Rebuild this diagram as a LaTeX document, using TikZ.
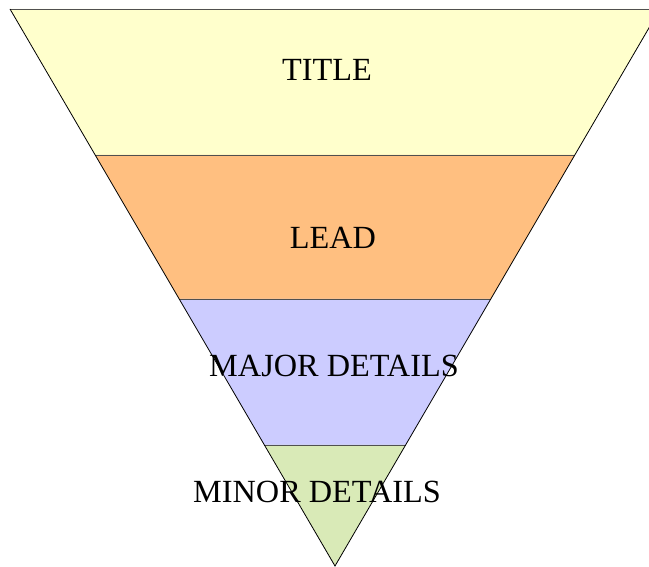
\documentclass[tikz,border=0pt]{standalone}
\usepackage{fontspec}
\setmainfont{Liberation Serif}
\definecolor{bandA}{RGB}{255,255,204}
\definecolor{bandB}{RGB}{255,191,128}
\definecolor{bandC}{RGB}{204,204,255}
\definecolor{bandD}{RGB}{217,234,183}
\definecolor{rule}{RGB}{80,80,80}
\begin{document}
\begin{tikzpicture}[x=1pt,y=1pt,
  label/.style={font=\fontsize{32.3}{38}\selectfont, inner sep=0pt, anchor=center},
  edge/.style={black, line width=0.8pt},
  band/.style={draw=none}]
\useasboundingbox (0,0) rectangle (649,566);
\clip (0,0) rectangle (649,566);
% funnel corners: top-left, top-right, apex
\coordinate (tl) at (10,557);
\coordinate (tr) at (660,557);
\coordinate (ap) at (335,0);
% band boundaries
\coordinate (l1) at (95.2,411);  \coordinate (r1) at (574.8,411);
\coordinate (l2) at (179.2,267); \coordinate (r2) at (490.8,267);
\coordinate (l3) at (264.4,121); \coordinate (r3) at (405.6,121);
% bands
\fill[bandA] (tl) -- (tr) -- (r1) -- (l1) -- cycle;
\fill[bandB] (l1) -- (r1) -- (r2) -- (l2) -- cycle;
\fill[bandC] (l2) -- (r2) -- (r3) -- (l3) -- cycle;
\fill[bandD] (l3) -- (r3) -- (ap) -- cycle;
% labels
\node[label] (title) at (327,496) {TITLE};
\node[label] (lead) at (333,328) {LEAD};
\node[label] (major) at (334,200) {MAJOR DETAILS};
\node[label] (minor) at (317,74) {MINOR DETAILS};
% dividers
\draw[rule, line width=0.8pt] (tl) -- (tr);
\draw[rule, line width=0.8pt] (l1) -- (r1);
\draw[rule, line width=0.8pt] (l2) -- (r2);
\draw[rule, line width=0.8pt] (l3) -- (r3);
% sides
\draw[edge] (tl) -- (ap) -- (tr);
\end{tikzpicture}
\end{document}
